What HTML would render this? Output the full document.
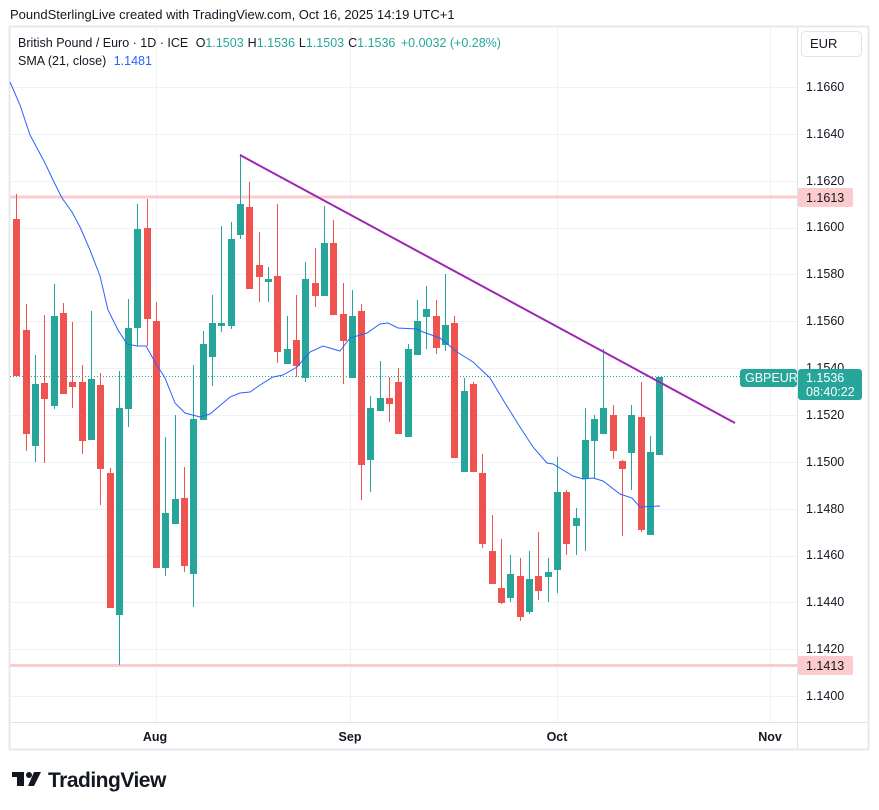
<!DOCTYPE html>
<html><head><meta charset="utf-8"><style>
body{margin:0;background:#fff;width:879px;height:810px;overflow:hidden;font-family:"Liberation Sans",sans-serif}
svg{position:absolute;left:0;top:0}
</style></head><body>
<svg id="s" width="879" height="810" xmlns="http://www.w3.org/2000/svg" font-family="Liberation Sans, sans-serif">
<text x="10" y="19" font-size="13" fill="#131722">PoundSterlingLive created with TradingView.com, Oct 16, 2025 14:19 UTC+1</text>
<rect x="9.5" y="26.5" width="859" height="723" fill="none" stroke="#e6e8ee" stroke-width="2"/>
<g id="grid" stroke="#f0f1f4" stroke-width="1"></g>
<line x1="10" y1="722.5" x2="868" y2="722.5" stroke="#e0e3eb"/>
<line x1="797.5" y1="27" x2="797.5" y2="749" stroke="#e0e3eb"/>
<line x1="10" y1="197" x2="797" y2="197" stroke="#fccbcd" stroke-width="3"/>
<line x1="10" y1="665.5" x2="797" y2="665.5" stroke="#fccbcd" stroke-width="3"/>
<line x1="10" y1="376.5" x2="797" y2="376.5" stroke="#26a69a" stroke-dasharray="1,2"/>
<g id="c"></g>
<polyline fill="none" stroke="#2962ff" stroke-width="1" points="10,82 20,105 30,135 45,163 53,180 62,198 72,212 80,227 90,250 100,276 108,310 118,330 127,344 137,346 146,346 155,362 165,378 175,403 185,413 200,417 210,414 230,397 240,393 250,392 260,385 273,377 283,375 297,367 310,352 323,346 340,351 350,338 367,333 380,324 388,323 398,328 417,329 423,332 440,338 457,352 473,362 490,378 505,403 520,427 533,447 547,463 553,464 573,476 583,479 593,478 603,481 620,494 632,498 640,507 660,506"/>
<line x1="240" y1="155" x2="735" y2="423" stroke="#9c27b0" stroke-width="2"/>
<g font-size="12.5" fill="#131722">
<text x="806" y="91">1.1660</text><text x="806" y="138">1.1640</text><text x="806" y="185">1.1620</text><text x="806" y="231">1.1600</text><text x="806" y="278">1.1580</text><text x="806" y="325">1.1560</text><text x="806" y="372">1.1540</text><text x="806" y="419">1.1520</text><text x="806" y="466">1.1500</text><text x="806" y="513">1.1480</text><text x="806" y="559">1.1460</text><text x="806" y="606">1.1440</text><text x="806" y="653">1.1420</text><text x="806" y="700">1.1400</text>
</g>
<rect x="798" y="188" width="55" height="19" rx="2" fill="#fccbcd"/>
<text x="806" y="202" font-size="12.5" fill="#131722">1.1613</text>
<rect x="798" y="656" width="55" height="19" rx="2" fill="#fccbcd"/>
<text x="806" y="670" font-size="12.5" fill="#131722">1.1413</text>
<rect x="740" y="369" width="57" height="18" rx="3" fill="#26a69a"/>
<text x="745" y="382" font-size="12.5" fill="#fff">GBPEUR</text>
<rect x="798" y="369" width="64" height="31" rx="3" fill="#26a69a"/>
<text x="806" y="382" font-size="12.5" fill="#fff">1.1536</text>
<text x="806" y="396" font-size="12.5" fill="#fff">08:40:22</text>
<rect x="801.5" y="31.5" width="60" height="25" rx="4" fill="#fff" stroke="#e0e3eb"/>
<text x="810" y="48" font-size="13" fill="#131722">EUR</text>
<g font-size="12.5" fill="#131722" font-weight="bold" text-anchor="middle">
<text x="155" y="741">Aug</text><text x="350" y="741">Sep</text><text x="557" y="741">Oct</text><text x="770" y="741">Nov</text>
</g>
<text x="18" y="47" font-size="12.5" fill="#131722">British Pound / Euro · 1D · ICE <tspan dx="4">O</tspan><tspan fill="#26a69a">1.1503</tspan><tspan dx="4">H</tspan><tspan fill="#26a69a">1.1536</tspan><tspan dx="4">L</tspan><tspan fill="#26a69a">1.1503</tspan><tspan dx="4">C</tspan><tspan fill="#26a69a">1.1536 </tspan><tspan fill="#26a69a" dx="2">+0.0032 (+0.28%)</tspan></text>
<text x="18" y="65" font-size="12.5" fill="#131722">SMA (21, close) <tspan dx="4" fill="#2962ff">1.1481</tspan></text>
<g fill="#131722">
<rect x="12" y="772" width="12" height="5"/><rect x="17" y="772" width="7" height="14"/>
<circle cx="29" cy="775" r="3"/><polygon points="34,772 41,772 34,786 28,786"/>
<text x="48" y="787" font-size="21" font-weight="bold" letter-spacing="-0.5">TradingView</text>
</g>
</svg>
<script>
var g=document.getElementById('grid'),ns='http://www.w3.org/2000/svg';
function L(x1,y1,x2,y2){var l=document.createElementNS(ns,'line');l.setAttribute('x1',x1);l.setAttribute('y1',y1);l.setAttribute('x2',x2);l.setAttribute('y2',y2);g.appendChild(l);}
for(var k=0;k<14;k++){var y=Math.round(87+k*46.85)+0.5;L(10,y,797,y);}
[156,350,557,770].forEach(function(x){L(x+0.5,27,x+0.5,722);});
var D=[
[219,376,194,376],[330,434,304,451],[446,384,355,462],[383,399,315,463],[406,316,284,409],[313,394,303,394],[382,387,322,408],[382,441,365,454],[440,379,311,440],[385,469,373,505],
[473,608,468,608],[615,408,371,665],[409,328,299,427],[328,229,204,346],[228,319,199,346],[321,568,302,568],[568,513,437,576],[524,499,415,524],[498,566,467,572],[574,419,365,607],
[420,344,331,420],[357,323,295,386],[326,323,226,332],[326,239,222,329],[235,204,154,239],[207,289,182,289],[265,277,232,302],[282,279,267,302],[276,352,204,363],[364,349,316,364],
[340,366,295,377],[378,279,262,382],[283,296,248,307],[296,243,206,296],[243,315,220,315],[314,341,283,384],[378,316,290,378],[311,465,304,500],[460,408,396,492],[411,398,361,411],
[398,404,377,422],[382,434,368,434],[437,349,344,437],[355,321,300,355],[317,309,286,349],[316,348,300,354],[345,325,274,351],[323,458,316,458],[472,391,378,472],[384,472,382,472],
[473,544,454,548],[551,584,515,584],[588,603,539,604],[598,574,555,602],[576,617,558,621],[612,579,551,614],[576,591,532,600],[577,572,558,602],[570,492,457,593],[492,544,490,555],
[526,518,508,555],[479,440,408,551],[441,419,415,479],[434,408,349,434],[415,451,405,459],[461,469,460,536],[453,415,405,490],[417,530,382,532],[535,452,436,535],[455,377,377,455]];
var c=document.getElementById('c');
D.forEach(function(d,i){var x=Math.round(16.3+9.32*i),o=d[0],cl=d[1];var up=cl<o;var col=up?'#26a69a':'#ef5350';
var w=document.createElementNS(ns,'rect');w.setAttribute('x',x);w.setAttribute('y',d[2]);w.setAttribute('width',1);w.setAttribute('height',d[3]-d[2]);w.setAttribute('fill',col);c.appendChild(w);
var b=document.createElementNS(ns,'rect');var t=Math.min(o,cl),h=Math.max(Math.abs(o-cl),1);b.setAttribute('x',x-3);b.setAttribute('y',t);b.setAttribute('width',7);b.setAttribute('height',h);b.setAttribute('fill',col);c.appendChild(b);});
</script>
</body></html>
